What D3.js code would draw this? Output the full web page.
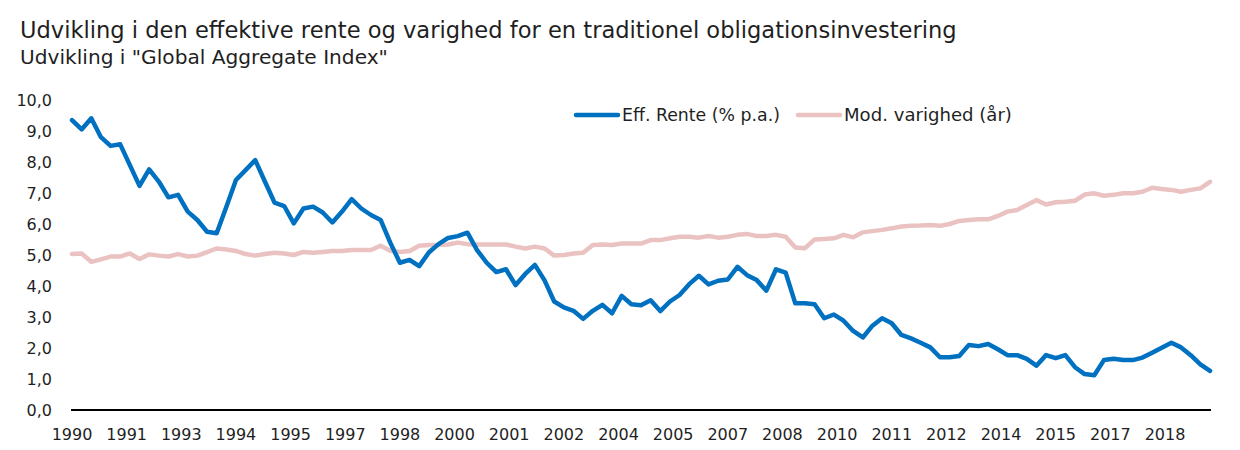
<!DOCTYPE html>
<html><head><meta charset="utf-8">
<script src="https://cdn.jsdelivr.net/npm/d3@7"></script>
<style>body{margin:0;background:#fff}svg{display:block}</style>
</head><body>
<svg id="c" width="1240" height="450"></svg>
<script>
const titleText = "Udvikling i den effektive rente og varighed for en traditionel obligationsinvestering";
const subtitleText = 'Udvikling i "Global Aggregate Index"';
const seriesNames = ["Eff. Rente (% p.a.)", "Mod. varighed (år)"];
const seriesColors = ["#0070C0", "#EAC2C1"];

// Quarterly observations, 1990 onwards
const effRente = [
 9.35, 9.05, 9.41, 8.80, 8.52, 8.57, 7.90, 7.23, 7.76, 7.37,
 6.86, 6.94, 6.40, 6.13, 5.75, 5.70, 6.55, 7.42, 7.74, 8.06,
 7.37, 6.69, 6.58, 6.02, 6.50, 6.56, 6.37, 6.05, 6.40, 6.80,
 6.50, 6.29, 6.13, 5.40, 4.75, 4.84, 4.64, 5.08, 5.35, 5.55,
 5.61, 5.72, 5.16, 4.75, 4.45, 4.54, 4.03, 4.39, 4.68, 4.18,
 3.50, 3.31, 3.20, 2.94, 3.20, 3.39, 3.12, 3.68, 3.41, 3.38,
 3.54, 3.19, 3.50, 3.71, 4.06, 4.33, 4.05, 4.17, 4.21, 4.62,
 4.35, 4.19, 3.85, 4.54, 4.43, 3.44, 3.44, 3.41, 2.96, 3.08,
 2.88, 2.55, 2.34, 2.72, 2.96, 2.80, 2.42, 2.31, 2.17, 2.02,
 1.70, 1.70, 1.74, 2.10, 2.06, 2.13, 1.96, 1.77, 1.77, 1.65,
 1.43, 1.77, 1.67, 1.77, 1.38, 1.16, 1.12, 1.61, 1.65, 1.61,
 1.61, 1.69, 1.85, 2.01, 2.17, 2.02, 1.77, 1.47, 1.26
];
const modVarighed = [
 5.03, 5.05, 4.78, 4.86, 4.95, 4.95, 5.05, 4.87, 5.02, 4.98,
 4.95, 5.03, 4.95, 4.98, 5.09, 5.21, 5.18, 5.13, 5.03, 4.98,
 5.03, 5.07, 5.05, 5.00, 5.10, 5.07, 5.10, 5.13, 5.13, 5.16,
 5.16, 5.16, 5.30, 5.14, 5.10, 5.13, 5.30, 5.32, 5.32, 5.34,
 5.40, 5.35, 5.34, 5.34, 5.34, 5.34, 5.27, 5.21, 5.27, 5.21,
 4.98, 5.00, 5.05, 5.07, 5.32, 5.34, 5.32, 5.37, 5.37, 5.37,
 5.48, 5.48, 5.54, 5.59, 5.59, 5.56, 5.61, 5.56, 5.59, 5.65,
 5.68, 5.61, 5.61, 5.65, 5.59, 5.24, 5.22, 5.50, 5.52, 5.54,
 5.65, 5.57, 5.73, 5.77, 5.81, 5.86, 5.92, 5.94, 5.95, 5.97,
 5.94, 6.00, 6.10, 6.13, 6.15, 6.15, 6.26, 6.40, 6.45, 6.61,
 6.77, 6.63, 6.70, 6.72, 6.75, 6.95, 6.99, 6.91, 6.94, 6.99,
 6.99, 7.04, 7.17, 7.13, 7.10, 7.04, 7.10, 7.15, 7.36
];
const xTickLabels = ["1990","1991","1993","1994","1995","1997","1998","2000","2001","2002",
 "2004","2005","2007","2008","2010","2011","2012","2014","2015","2017","2018"];
const yTickValues = [0,1,2,3,4,5,6,7,8,9,10];
const monthsPerPoint = 3;
const monthsPerLabel = 17;

const FONT = "'DejaVu Sans', sans-serif";
const TXT = "#1f1f1f";
const svg = d3.select("#c");

const n = effRente.length;
const x = d3.scaleLinear().domain([0, (n - 1) * monthsPerPoint]).range([72, 1210]);
const y = d3.scaleLinear().domain([0, 10]).range([410, 100]);

function fit(sel, w) {
  const fs = parseFloat(sel.attr("font-size"));
  const len = sel.node().getComputedTextLength();
  sel.attr("font-size", (fs * w / len).toFixed(2));
}

// Titles
const t1 = svg.append("text").attr("x", 20).attr("y", 38).attr("font-family", FONT)
  .attr("font-size", 20).attr("fill", TXT).text(titleText);
fit(t1, 937);
const t2 = svg.append("text").attr("x", 20).attr("y", 64).attr("font-family", FONT)
  .attr("font-size", 18).attr("fill", TXT).text(subtitleText);
fit(t2, 368);

// Y axis labels
const fmt = v => d3.format(".1f")(v).replace(".", ",");
svg.append("g").selectAll("text").data(yTickValues).join("text")
  .attr("x", 52).attr("y", d => y(d)).attr("dy", "0.36em")
  .attr("text-anchor", "end").attr("font-family", FONT).attr("font-size", 16)
  .attr("fill", TXT).text(fmt);

// X axis
svg.append("line").attr("x1", x(0) - 1).attr("x2", x((n - 1) * monthsPerPoint) + 1)
  .attr("y1", y(0)).attr("y2", y(0)).attr("stroke", "#000").attr("stroke-width", 2);
svg.append("g").selectAll("text").data(xTickLabels).join("text")
  .attr("x", (d, i) => x(i * monthsPerLabel)).attr("y", 440)
  .attr("text-anchor", "middle").attr("font-family", FONT).attr("font-size", 16)
  .attr("fill", TXT).text(d => d);

// Lines
const line = d3.line().x((d, i) => x(i * monthsPerPoint)).y(d => y(d));
[[modVarighed, seriesColors[1]], [effRente, seriesColors[0]]].forEach(([s, c]) => {
  svg.append("path").datum(s).attr("d", line).attr("fill", "none")
    .attr("stroke", c).attr("stroke-width", 4.5)
    .attr("stroke-linejoin", "round").attr("stroke-linecap", "round");
});

// Legend
const legendX = [576, 798];
seriesNames.forEach((name, k) => {
  const g = svg.append("g");
  g.append("line").attr("x1", legendX[k]).attr("x2", legendX[k] + 42).attr("y1", 115).attr("y2", 115)
    .attr("stroke", seriesColors[k]).attr("stroke-width", 4.5).attr("stroke-linecap", "round");
  const t = g.append("text").attr("x", legendX[k] + 46).attr("y", 121).attr("font-family", FONT)
    .attr("font-size", 17).attr("fill", TXT).text(name);
  fit(t, k === 0 ? 158 : 168);
});
</script>
</body></html>
